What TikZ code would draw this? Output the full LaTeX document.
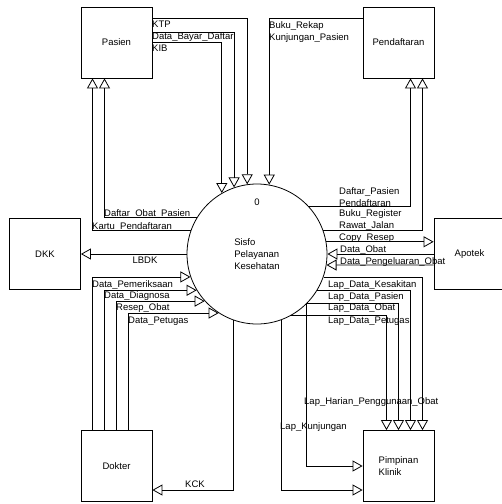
\documentclass[tikz,border=0pt]{standalone}
\usepackage{fontspec}
\setmainfont{Liberation Sans}
\usetikzlibrary{arrows.meta}
\newcommand{\dfdfont}{\fontsize{9.5}{12}\selectfont}
\tikzset{
    entbox/.style = {rectangle, draw=black, line width=0.8pt, minimum width=71pt, minimum height=71pt, align=left, font=\dfdfont},
    procnode/.style = {circle, draw=black, line width=0.8pt, minimum size=140pt, inner sep=0pt, align=left, font=\dfdfont},
    flowe/.style = {draw=black, line width=0.8pt, -{Triangle[open,length=10pt,width=11pt]}},
    lbl/.style = {inner sep=0pt, anchor=base west, font=\dfdfont},
    lblc/.style = {inner sep=0pt, anchor=base, font=\dfdfont},
    lblm/.style = {inner sep=0pt, anchor=west, align=left, font=\dfdfont}
}

\begin{document}
\begin{tikzpicture}[x=1pt,y=-1pt]
\useasboundingbox (0,0) rectangle (502,504);

% entities and process
\node[entbox] at (116.5, 42.5) (pasien) {Pasien};
\node[entbox] at (398.5, 42.5) (pendaftaran) {Pendaftaran};
\node[entbox] at ( 45.0,254.0) (dkk) {DKK};
\node[entbox] at (469.5,254.0) (apotek) {Apotek};
\node[entbox] at (116.5,466.0) (dokter) {Dokter};
\node[entbox] at (398.5,466.0) (pimpinan) {Pimpinan\\Klinik};
\node[procnode] at (257.0,254.0) (proses) {Sisfo\\Pelayanan\\Kesehatan};
\node[lblc] at (257,205.5) (nomor) {0};

% Pasien
\draw[flowe] ([yshift=24.5pt]pasien.east) -| (proses.98);
\draw[flowe] ([yshift=10.5pt]pasien.east) -| (proses.109);
\draw[flowe] (pasien.east) -| (proses.120);
\draw[flowe] (proses.149) -| ([xshift=-12pt]pasien.south);
\draw[flowe] (proses.160) -| ([xshift=-24pt]pasien.south);
\node[lbl] at (152, 27.5) (lktp) {KTP};
\node[lbl] at (152, 39.5) (lbayar) {Data\_Bayar\_Daftar};
\node[lbl] at (152, 51.5) (lkib) {KIB};
\node[lbl] at (104,216.5) (lobatpas) {Daftar\_Obat\_Pasien};
\node[lbl] at ( 92,229.5) (lkartu) {Kartu\_Pendaftaran};

% Pendaftaran
\draw[flowe] ([yshift=24.5pt]pendaftaran.west) -| (proses.80);
\draw[flowe] (proses.43) -| ([xshift=12pt]pendaftaran.south);
\draw[flowe] (proses.20) -| ([xshift=24pt]pendaftaran.south);
\node[lblm] at (269, 32) (lrekap) {Buku\_Rekap\\Kunjungan\_Pasien};
\node[lblm] at (339,197) (ldaftar) {Daftar\_Pasien\\Pendaftaran};
\node[lblm] at (339,220) (lregister) {Buku\_Register\\Rawat\_Jalan};

% Apotek
\draw[flowe] (proses.10) -- (proses.10 -| apotek.west);
\draw[flowe] (apotek.west) -- (proses.east);
\draw[flowe] ([yshift=-11pt]apotek.west) -- (proses.351);
\node[lbl] at (339,240.5) (lcopy) {Copy\_Resep};
\node[lbl] at (340,252.5) (ldobat) {Data\_Obat};
\node[lbl] at (340,264.0) (lkeluar) {Data\_Pengeluaran\_Obat};

% DKK
\draw[flowe] (proses.west) -- (dkk.east);
\node[lblc] at (145,263.5) (llbdk) {LBDK};

% Dokter
\draw[flowe] ([xshift=-24pt]dokter.north) |- (proses.199);
\draw[flowe] ([xshift=-12pt]dokter.north) |- (proses.211);
\draw[flowe] (dokter.north) |- (proses.222);
\draw[flowe] ([xshift=12pt]dokter.north) |- (proses.237);
\draw[flowe] (proses.250) |- ([yshift=-24pt]dokter.east);
\node[lbl] at ( 92,287.0) (lperiksa) {Data\_Pemeriksaan};
\node[lbl] at (104,298.5) (ldiag) {Data\_Diagnosa};
\node[lbl] at (116,310.5) (lresep) {Resep\_Obat};
\node[lbl] at (128,323.0) (lpetugas) {Data\_Petugas};
\node[lblc] at (195,487.5) (lkck) {KCK};

% Pimpinan Klinik
\draw[flowe] (proses.341) -| ([xshift=24pt]pimpinan.north);
\draw[flowe] (proses.329) -| ([xshift=12pt]pimpinan.north);
\draw[flowe] (proses.315) -| (pimpinan.north);
\draw[flowe] (proses.299) -| ([xshift=-12pt]pimpinan.north);
\draw[flowe] (proses.315) |- (pimpinan.west);
\draw[flowe] (proses.290) |- ([yshift=-24pt]pimpinan.west);
\node[lbl] at (328,287.0) (lsakit) {Lap\_Data\_Kesakitan};
\node[lbl] at (328,299.0) (lpasien) {Lap\_Data\_Pasien};
\node[lbl] at (328,310.5) (lobat) {Lap\_Data\_Obat};
\node[lbl] at (328,323.0) (lptg) {Lap\_Data\_Petugas};
\node[lbl] at (304,404.5) (lharian) {Lap\_Harian\_Penggunaan\_Obat};
\node[lbl] at (280,429.5) (lkunjung) {Lap\_Kunjungan};

\end{tikzpicture}
\end{document}
